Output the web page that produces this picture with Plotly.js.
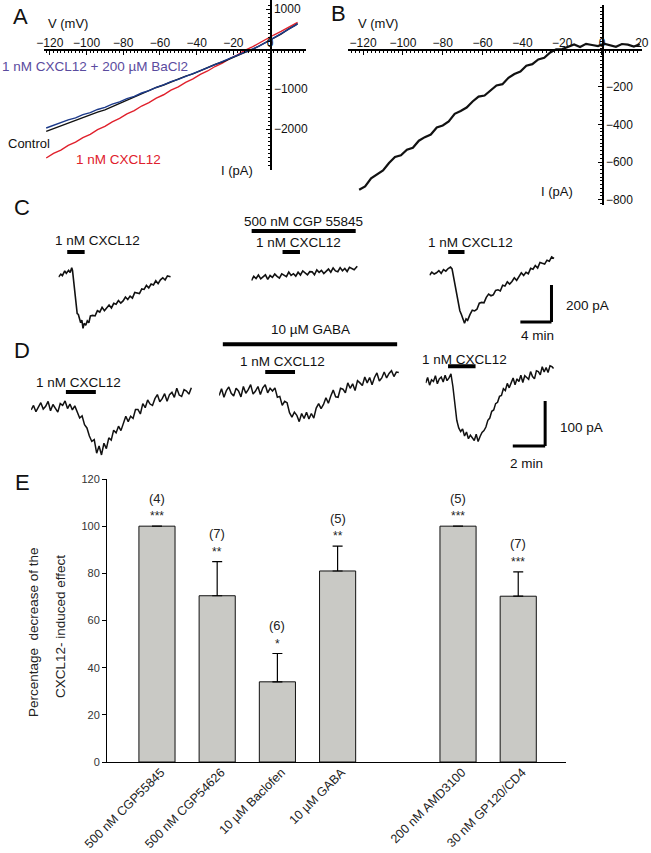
<!DOCTYPE html>
<html>
<head>
<meta charset="utf-8">
<script src="https://cdn.plot.ly/plotly-3.0.1.min.js"></script>
<style>html,body{margin:0;padding:0;background:#fff;}#fig{width:651px;height:853px;}</style>
</head>
<body>
<div id="fig"></div>
<script>
// ---------- Panel A: I-V curves ----------
const ivV = [-122,-118,-114,-110,-106,-102,-98,-94,-90,-86,-82,-78,-74,-70,-66,-62,-58,-54,-50,-46,-42,-38,-34,-30,-26,-22,-18,-14,-10,-6,-2,2,6,10,14,15];
const ivControl = [-2060,-1990,-1930,-1855,-1795,-1718,-1660,-1580,-1522,-1440,-1372,-1280,-1212,-1120,-1050,-962,-900,-820,-758,-678,-620,-538,-475,-388,-325,-240,-175,-90,-25,75,165,280,372,495,590,630];
const ivCXCL12 = [-2725,-2610,-2528,-2412,-2330,-2215,-2132,-2018,-1935,-1820,-1736,-1622,-1540,-1425,-1340,-1228,-1144,-1030,-945,-832,-748,-636,-550,-438,-352,-240,-155,-42,44,152,242,350,440,548,636,665];
const ivBaCl2 = [-1975,-1905,-1852,-1772,-1720,-1642,-1590,-1512,-1460,-1378,-1322,-1240,-1185,-1100,-1042,-958,-895,-815,-760,-680,-612,-540,-468,-392,-318,-245,-168,-95,-18,72,172,272,382,488,598,640];
const ivTicksV = [-120,-100,-80,-60,-40,-20,0,20];
const ivTicksIA = [-2000,-1000,1000];

// ---------- Panel B: CXCL12-induced current ----------
const bV = [-122,-119,-116,-113,-110,-107,-104,-101,-98,-95,-92,-89,-86,-83,-80,-77,-74,-71,-68,-65,-62,-59,-56,-53,-50,-47,-44,-41,-38,-35,-32,-29,-26,-23,-20,-17,-14,-11,-8,-5,-2,1,4,7,10,13,16,19];
const bI = [-747,-729,-687,-668,-645,-605,-573,-564,-535,-524,-487,-468,-454,-417,-406,-385,-344,-329,-311,-279,-253,-247,-222,-194,-187,-153,-133,-120,-89,-81,-56,-47,-19,-2,-1,11,24,10,27,21,15,28,18,11,26,23,13,25];
const ivTicksIB = [-800,-600,-400,-200];

// ---------- Panel C: CGP 55845 traces (min, pA) ----------
const c1T = [0,0.3,0.5,0.8,1.0,1.3,1.5,1.7,1.8,1.95,2.1,2.25,2.4,2.55,2.7,2.85,3.0,3.15,3.3,3.5,3.7,3.9,4.1,4.4,4.7,5.0,5.3,5.6,5.9,6.2,6.5,6.8,7.1,7.4,7.7,8.0,8.3,8.6,8.9,9.2,9.5,9.8,10.1,10.4,10.7,11.0,11.3,11.6,11.9,12.2,12.5,12.8,13.1,13.4,13.7,14.0,14.4];
const c1I = [-38,-22,-30,-5,-18,-2,-14,12,-2,-60,-140,-195,-235,-240,-272,-285,-270,-315,-288,-298,-275,-285,-248,-245,-248,-220,-227,-202,-220,-202,-189,-205,-180,-185,-165,-179,-167,-146,-159,-141,-152,-121,-122,-127,-102,-105,-83,-97,-76,-81,-58,-74,-53,-42,-54,-32,-36];
const c2T = [0,0.3,0.6,0.9,1.2,1.5,1.8,2.1,2.4,2.7,3.0,3.3,3.6,3.9,4.2,4.5,4.8,5.1,5.4,5.7,6.0,6.3,6.6,6.9,7.2,7.5,7.8,8.1,8.4,8.7,9.0,9.3,9.6,9.9,10.2,10.5,10.8,11.1,11.4,11.7,12.0,12.3,12.6,12.9,13.2,13.6];
const c2I = [-57,-34,-46,-27,-48,-37,-26,-51,-30,-40,-22,-34,-44,-21,-27,-36,-11,-29,-20,-33,-12,-27,-5,-18,-26,-9,-10,-26,0,-13,-2,-19,-4,5,-12,11,-5,-9,13,-4,8,-8,14,8,1,20];
const c3T = [0,0.3,0.6,0.9,1.2,1.5,1.8,2.1,2.4,2.7,2.9,3.1,3.3,3.5,3.7,3.9,4.1,4.3,4.5,4.7,4.9,5.2,5.5,5.8,6.1,6.4,6.7,7.0,7.3,7.6,7.9,8.2,8.5,8.8,9.1,9.4,9.7,10.0,10.3,10.6,10.9,11.2,11.5,11.8,12.1,12.4,12.7,13.0,13.3,13.6,13.9,14.2,14.5,14.8,15.1,15.4,15.7,16.0];
const c3I = [-28,-12,-22,-15,-3,-18,2,-6,8,16,6,-40,-100,-150,-185,-220,-240,-270,-288,-264,-272,-241,-217,-221,-212,-179,-175,-177,-148,-130,-139,-134,-110,-107,-113,-82,-87,-64,-76,-62,-42,-56,-33,-15,-29,-12,-20,9,4,24,11,41,36,32,53,47,71,62];

// ---------- Panel D: GABA traces (min, pA) ----------
const d1T = [0,0.15,0.3,0.45,0.6,0.75,0.9,1.05,1.2,1.35,1.5,1.65,1.8,1.95,2.1,2.25,2.4,2.55,2.7,2.85,3.0,3.15,3.3,3.45,3.6,3.75,3.9,4.05,4.2,4.35,4.5,4.65,4.8,4.95,5.1,5.25,5.4,5.55,5.7,5.85,6.0,6.15,6.3,6.45,6.6,6.75,6.9,7.05,7.2,7.35,7.5,7.65,7.8,7.95,8.1,8.25,8.4,8.55,8.7,8.85,9.0,9.15,9.3,9.45,9.6,9.75,9.9];
const d1I = [-22,-12,-26,-15,-6,-20,-14,-3,-24,-10,-18,-27,-8,-12,-2,-19,-9,-22,-13,-25,-40,-35,-55,-62,-80,-92,-88,-118,-102,-122,-96,-108,-84,-89,-67,-73,-58,-68,-50,-36,-48,-36,-41,-21,-21,-31,-8,-17,0,-9,-12,3,12,-4,3,14,-3,12,17,6,26,11,8,23,20,13,27];
const d2T = [0,0.15,0.3,0.45,0.6,0.75,0.9,1.05,1.2,1.35,1.5,1.65,1.8,1.95,2.1,2.25,2.4,2.55,2.7,2.85,3.0,3.15,3.3,3.45,3.6,3.75,3.9,4.05,4.2,4.35,4.5,4.65,4.8,4.95,5.1,5.25,5.4,5.55,5.7,5.85,6.0,6.15,6.3,6.45,6.6,6.75,6.9,7.05,7.2,7.35,7.5,7.65,7.8,7.95,8.1,8.25,8.4,8.55,8.7,8.85,9.0,9.15,9.3,9.45,9.6,9.75,9.9,10.05,10.2,10.35,10.5,10.65,10.8,10.95,11.1];
const d2I = [10,25,6,21,29,15,9,26,20,7,30,15,23,34,13,20,30,12,27,34,16,26,20,27,6,8,-12,-3,-6,-28,-38,-27,-34,-48,-30,-41,-27,-42,-30,-40,-18,-8,-19,-10,5,-7,9,22,7,6,26,24,16,38,26,36,21,43,38,32,51,38,50,34,50,60,42,49,62,49,59,65,52,62,61];
const d3T = [0,0.12,0.24,0.36,0.48,0.6,0.72,0.84,0.96,1.08,1.2,1.32,1.44,1.56,1.68,1.8,1.92,2.04,2.16,2.28,2.4,2.52,2.64,2.76,2.88,3.0,3.12,3.24,3.36,3.48,3.6,3.72,3.84,3.96,4.08,4.2,4.32,4.44,4.56,4.68,4.8,4.92,5.04,5.16,5.28,5.4,5.52,5.64,5.76,5.88,6.0,6.12,6.24,6.36,6.48,6.6,6.72,6.84,6.96,7.08,7.2,7.32,7.44,7.56,7.68,7.8,7.9];
const d3I = [38,50,33,45,41,54,36,47,51,40,55,43,49,58,30,-10,-45,-62,-70,-64,-80,-71,-86,-78,-84,-90,-76,-92,-81,-72,-68,-60,-45,-40,-25,-22,-8,-5,8,10,25,21,37,27,38,49,34,47,41,55,39,54,50,46,63,52,47,65,63,56,74,62,72,61,76,74,70];

// ---------- Panel E: bar chart ----------
const categories = ['500 nM CGP55845','500 nM CGP54626','10 µM Baclofen','10 µM GABA',' ','200 nM AMD3100','30 nM GP120/CD4'];
const pctDecrease = [100,70.5,34,81,null,100,70.3];
const semUp = [0,14.5,12,10.5,null,0,10.3];
const nCells = ['(4)','(7)','(6)','(5)','','(5)','(7)'];
const signif = ['***','**','*','**','','***','***'];
const eTicks = [0,20,40,60,80,100,120];
const eTitleLines = ['Percentage  decrease of the','CXCL12- induced effect'];

// ---------- helpers (pixel -> paper) ----------
const W = 651, H = 853;
const px = v => v / W;
const py = v => 1 - v / H;
const FONT = '"Liberation Sans", Arial, Helvetica, sans-serif';

const traces = [
  {x: ivV, y: ivCXCL12, xaxis:'x', yaxis:'y', mode:'lines', line:{color:'#e0202c', width:1.4}},
  {x: ivV, y: ivControl, xaxis:'x', yaxis:'y', mode:'lines', line:{color:'#111111', width:1.4}},
  {x: ivV, y: ivBaCl2, xaxis:'x', yaxis:'y', mode:'lines', line:{color:'#1c3a8a', width:1.4}},
  {x: bV, y: bI, xaxis:'x2', yaxis:'y2', mode:'lines', line:{color:'#111', width:2.2}},
  {x: c1T, y: c1I, xaxis:'x3', yaxis:'y3', mode:'lines', line:{color:'#111', width:1.6}},
  {x: c2T, y: c2I, xaxis:'x4', yaxis:'y3', mode:'lines', line:{color:'#111', width:1.6}},
  {x: c3T, y: c3I, xaxis:'x5', yaxis:'y3', mode:'lines', line:{color:'#111', width:1.6}},
  {x: d1T, y: d1I, xaxis:'x6', yaxis:'y4', mode:'lines', line:{color:'#111', width:1.5}},
  {x: d2T, y: d2I, xaxis:'x7', yaxis:'y4', mode:'lines', line:{color:'#111', width:1.5}},
  {x: d3T, y: d3I, xaxis:'x8', yaxis:'y4', mode:'lines', line:{color:'#111', width:1.5}},
  {type:'bar', x: categories, y: pctDecrease, xaxis:'x9', yaxis:'y5', width:0.6,
   marker:{color:'#c9c9c5', line:{color:'#111', width:1}},
   error_y:{type:'data', symmetric:false, array: semUp, arrayminus:[0,0,0,0,0,0,0], color:'#000', thickness:1.2, width:5}}
];

const hidden = {visible:false, showgrid:false, zeroline:false, fixedrange:true};
const ivAxis = {showline:true, linecolor:'#000', linewidth:1.5, ticks:'inside', ticklen:4, tickcolor:'#000',
  tickfont:{size:12, color:'#111', family:FONT}, showgrid:false, zeroline:false, tickmode:'array'};

const layout = {
  width: W, height: H, margin:{l:0, r:0, t:0, b:0}, showlegend:false,
  paper_bgcolor:'#fff', plot_bgcolor:'rgba(0,0,0,0)', font:{family:FONT, color:'#111'},
  // A
  xaxis: Object.assign({}, ivAxis, {domain:[px(44), px(306)], range:[-123.2, 19.6], anchor:'free', position: py(49), side:'top',
    tickvals: ivTicksV, ticklabelstandoff:-3, minor:{tickmode:'linear', tick0:0, dtick:2, ticklen:2, ticks:'inside', tickcolor:'#000'}}),
  yaxis: Object.assign({}, ivAxis, {domain:[py(170), py(0)], range:[-3025, 1225], anchor:'free', position: px(270), side:'right',
    tickvals: ivTicksIA, minor:{tickmode:'linear', tick0:0, dtick:100, ticklen:2, ticks:'inside', tickcolor:'#000'}}),
  // B
  xaxis2: Object.assign({}, ivAxis, {domain:[px(348), px(642)], range:[-127.6, 20.1], anchor:'free', position: py(49), side:'top',
    tickvals: ivTicksV, ticklabelstandoff:-3, minor:{tickmode:'linear', tick0:0, dtick:2, ticklen:2, ticks:'inside', tickcolor:'#000'}}),
  yaxis2: Object.assign({}, ivAxis, {domain:[py(205), py(5)], range:[-828, 233], anchor:'free', position: px(602), side:'right',
    tickvals: ivTicksIB, minor:{tickmode:'linear', tick0:0, dtick:20, ticklen:2, ticks:'inside', tickcolor:'#000'}}),
  // C
  xaxis3: Object.assign({}, hidden, {domain:[px(58.5), px(174.3)], range:[0, 14.88], anchor:'y3'}),
  xaxis4: Object.assign({}, hidden, {domain:[px(251.4), px(361)], range:[0, 14.08], anchor:'y3'}),
  xaxis5: Object.assign({}, hidden, {domain:[px(429.5), px(560.2)], range:[0, 16.8], anchor:'y3'}),
  yaxis3: Object.assign({}, hidden, {domain:[py(340), py(200)], range:[-378, 378], anchor:'x3'}),
  // D
  xaxis6: Object.assign({}, hidden, {domain:[px(31.1), px(199.2)], range:[0, 10.385], anchor:'y4'}),
  xaxis7: Object.assign({}, hidden, {domain:[px(219.1), px(404.6)], range:[0, 11.46], anchor:'y4'}),
  xaxis8: Object.assign({}, hidden, {domain:[px(425.7), px(560.2)], range:[0, 8.31], anchor:'y4'}),
  yaxis4: Object.assign({}, hidden, {domain:[py(470), py(330)], range:[-155.4, 155.4], anchor:'x6'}),
  // E
  xaxis9: {domain:[px(107), px(566.4)], anchor:'y5', type:'category', categoryorder:'array', categoryarray: categories,
    range:[-0.83, 6.80], showline:true, linecolor:'#000', linewidth:1.2, ticks:'', tickangle:-45,
    ticklabelstandoff:-3, ticklabelshift:4,
    tickfont:{size:12.5, color:'#222', family:FONT}, showgrid:false, zeroline:false},
  yaxis5: {domain:[py(762), py(479)], anchor:'x9', range:[0, 120], showline:true, linecolor:'#000', linewidth:1,
    ticks:'outside', ticklen:4, tickcolor:'#000', tickmode:'array', tickvals: eTicks,
    tickfont:{size:11, color:'#333', family:FONT}, showgrid:false, zeroline:false},
  shapes: [],
  annotations: []
};

function bar(xref, yref, x0, x1, y, w) {
  layout.shapes.push({type:'line', xref, yref, x0, x1, y0:y, y1:y, line:{color:'#000', width:w||4}});
}
function vbar(xref, yref, x, y0, y1, w) {
  layout.shapes.push({type:'line', xref, yref, x0:x, x1:x, y0, y1, line:{color:'#000', width:w||3}});
}
// drug application bars
bar('x3','y3', 1.12, 3.36, 97);
bar('x4','y3', 0, 13.4, 211);
bar('x4','y3', 4.0, 6.24, 97);
bar('x5','y3', 2.4, 4.5, 97);
bar('x6','y4', 2.15, 4.0, 18);
bar('x7','y4', 0.23, 11.0, 124);
bar('x7','y4', 2.85, 4.69, 62);
bar('x8','y4', 1.38, 3.08, 75);
// scale bars: C = 4 min / 200 pA, D = 2 min / 100 pA
bar('x5','y3', 11.68, 15.68, -281, 3);
vbar('x5','y3', 15.68, -81, -281, 3);
bar('x8','y4', 5.38, 7.38, -102, 3);
vbar('x8','y4', 7.38, -2, -102, 3);

function txt(text, x, y, size, color, extra) {
  layout.annotations.push(Object.assign({text, x: px(x), y: py(y), xref:'paper', yref:'paper', showarrow:false,
    xanchor:'center', yanchor:'middle', font:{size: size, color: color || '#111', family: FONT}}, extra || {}));
}
// panel letters
txt('A', 20, 17, 22); txt('B', 338, 14, 22); txt('C', 22, 207, 22); txt('D', 22, 351, 22); txt('E', 22, 482, 22);
// A labels
txt('V (mV)', 68, 24, 13);
txt('1 nM CXCL12 + 200 µM BaCl2', 95, 67, 13.5, '#5a4b9e');
txt('Control', 29, 143, 13);
txt('1 nM CXCL12', 118, 159, 13.5, '#e0202c');
txt('I (pA)', 237, 170, 13);
// B labels
txt('V (mV)', 378, 24, 13);
txt('I (pA)', 557, 192, 13);
// C labels
txt('1 nM CXCL12', 97, 240, 13.5);
txt('500 nM CGP 55845', 303.7, 221, 13.5);
txt('1 nM CXCL12', 298.8, 243, 13.5);
txt('1 nM CXCL12', 470.5, 243, 13.5);
txt('200 pA', 587.5, 305, 13.5);
txt('4 min', 537.8, 335, 13.5);
// D labels
txt('10 µM GABA', 310, 329, 13.5);
txt('1 nM CXCL12', 282.6, 361, 13.5);
txt('1 nM CXCL12', 78.4, 382, 13.5);
txt('1 nM CXCL12', 464.3, 359, 13.5);
txt('100 pA', 581.3, 427, 13.5);
txt('2 min', 526.6, 463, 13.5);
// E: y-axis title (two lines)
txt(eTitleLines[0], 33, 632, 13.5, '#222', {textangle:-90});
txt(eTitleLines[1], 60, 627, 13.5, '#222', {textangle:-90});
// E: n and significance above bars
categories.forEach((c, i) => {
  if (pctDecrease[i] === null) return;
  const top = pctDecrease[i] + (semUp[i] || 0);
  layout.annotations.push({text: nCells[i], x: c, y: top, xref:'x9', yref:'y5', showarrow:false,
    yanchor:'middle', yshift: 28, font:{size:13, color:'#222', family:FONT}});
  layout.annotations.push({text: signif[i], x: c, y: top, xref:'x9', yref:'y5', showarrow:false,
    yanchor:'middle', yshift: 10, font:{size:12, color:'#222', family:FONT}});
});

Plotly.newPlot('fig', traces, layout, {displayModeBar:false, staticPlot:true});
</script>
</body>
</html>
